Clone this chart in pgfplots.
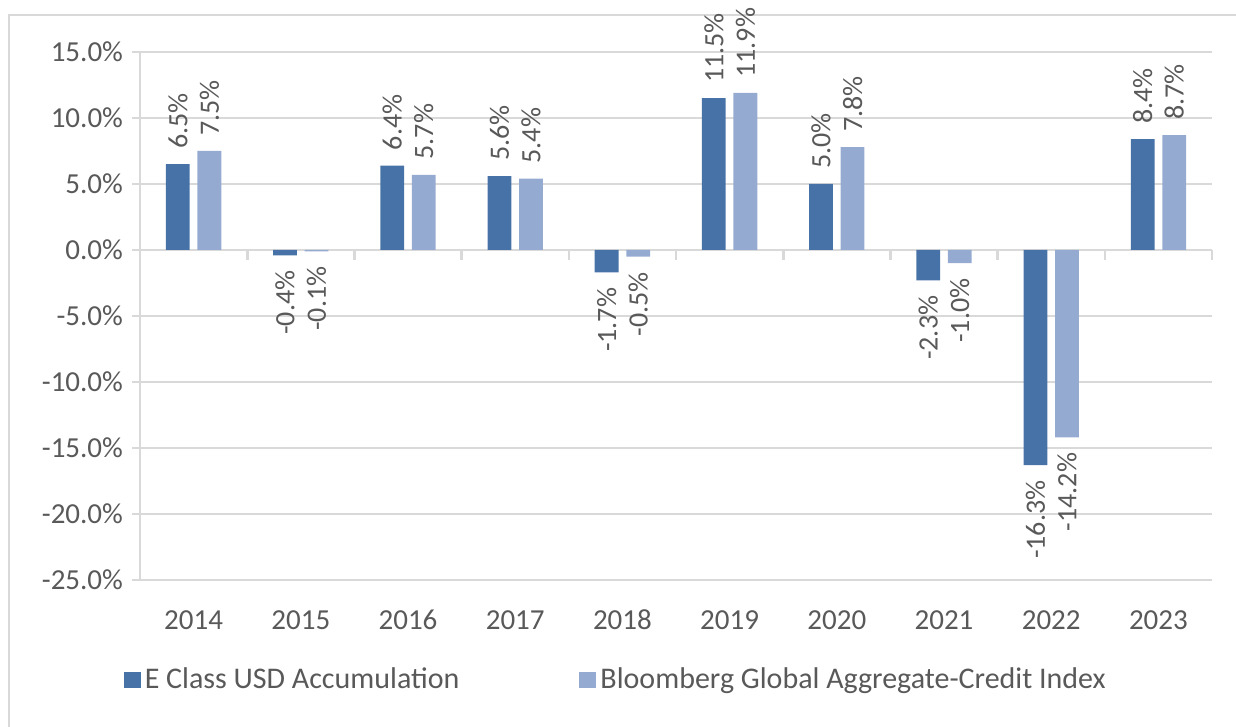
\documentclass[border=0pt]{standalone}
\usepackage{pgfplots}
\pgfplotsset{compat=1.18}
\usepackage{fontspec}
\setmainfont{Carlito}
\definecolor{darkbar}{RGB}{70,114,167}
\definecolor{lightbar}{RGB}{149,170,209}
\definecolor{gridc}{RGB}{217,217,217}
\definecolor{txt}{RGB}{89,89,89}
\begin{document}
\begin{tikzpicture}
\useasboundingbox (0,0) rectangle (618pt,363.5pt);
\draw[gridc, line width=1.3pt] (4.5pt,-10pt) -- (4.5pt,356pt) -- (630pt,356pt);
\begin{axis}[
  at={(70pt,73.5pt)}, anchor=south west,
  scale only axis, width=536pt, height=264pt,
  xmin=-0.5, xmax=9.5, ymin=-25, ymax=15,
  axis y line=left, axis x line=middle,
  axis line style={-, gridc, line width=1.3pt},
  ybar, bar width=0.222,
  xtick={0,...,9},
  xticklabels={2014,2015,2016,2017,2018,2019,2020,2021,2022,2023},
  minor xtick={-0.5,0.5,...,9.5},
  major x tick style={draw=none},
  minor x tick style={gridc, line width=1.3pt},
  minor tick length=5pt,
  major tick length=4pt,
  tick align=outside,
  ytick={-25,-20,...,15},
  y tick style={gridc, line width=1.3pt},
  ymajorgrids, grid style={gridc, line width=1pt},
  yticklabel={\pgfmathprintnumber[fixed,fixed zerofill,precision=1]{\tick}\%},
  /pgf/number format/assume math mode=true,
  ticklabel style={font=\fontsize{14.5}{17}\selectfont, text=txt},
  xticklabel style={anchor=center, yshift=-181pt},
  yticklabel style={xshift=-1pt},
  visualization depends on={y \as \yval},
  nodes near coords={\pgfmathprintnumber[fixed,fixed zerofill,precision=1]{\yval}\%},
  every node near coord/.append style={font=\fontsize{14}{16}\selectfont, text=txt, rotate=90,
     anchor={\ifdim\yval pt<0pt east\else west\fi}, inner xsep=7.5pt, inner ysep=2pt,
     /pgf/number format/assume math mode=true},
  legend columns=2,
  legend style={at={(axis description cs:-0.0155,-0.189)}, anchor=west, draw=none, fill=none,
     inner sep=0pt, font=\fontsize{15}{18}\selectfont, text=txt,
     /tikz/every even column/.append style={column sep=58pt}},
  legend image code/.code={\fill[#1] (0pt,-4pt) rectangle (8.5pt,4pt);},
]
\addplot[fill=darkbar, draw=none, bar shift=-0.147] coordinates {
 (0,6.5) (1,-0.4) (2,6.4) (3,5.6) (4,-1.7) (5,11.5) (6,5.0) (7,-2.3) (8,-16.3) (9,8.4)};
\addlegendentry{E Class USD Accumulation}
\addplot[fill=lightbar, draw=none, bar shift=0.147] coordinates {
 (0,7.5) (1,-0.1) (2,5.7) (3,5.4) (4,-0.5) (5,11.9) (6,7.8) (7,-1.0) (8,-14.2) (9,8.7)};
\addlegendentry{Bloomberg Global Aggregate-Credit Index}
\end{axis}
\end{tikzpicture}
\end{document}
